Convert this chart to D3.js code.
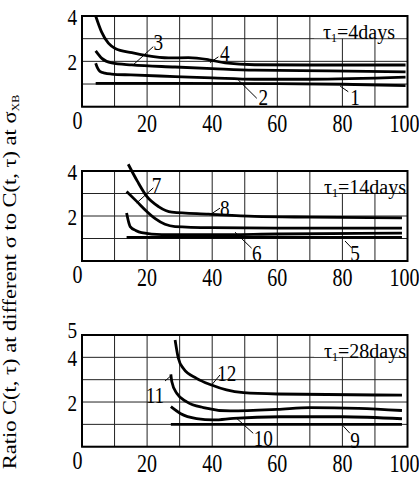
<!DOCTYPE html>
<html><head><meta charset="utf-8">
<script src="https://cdn.jsdelivr.net/npm/d3@7"></script>
<style>body{margin:0;background:#fff}svg{display:block}text{font-family:"Liberation Serif","DejaVu Serif",serif}</style>
</head><body><svg id="c" width="419" height="483"></svg>
<script>
// ---- data ----
const xTicks = [0, 20, 40, 60, 80, 100];
const tauLabels = ["4days", "14days", "28days"];
const yMaxes = [4, 4, 5];
const yTickLabels = [[2, 4], [2, 4], [2, 4, 5]];

// tau1 = 4 days
const curve1 = [[4.2,1.03],[30,1.03],[60,1.02],[80,0.99],[99.4,0.93]];
const curve2 = [[4.2,1.92],[4.8,1.7],[5.5,1.56],[7,1.48],[9.1,1.44],[15,1.4],[28.6,1.33],[40,1.27],[53,1.21],[70,1.21],[99.4,1.3]];
const curve3 = [[4.2,2.46],[6.1,2.13],[9.1,1.93],[15.3,1.84],[28.6,1.75],[40,1.68],[53,1.61],[76,1.58],[99.4,1.54]];
const curve4 = [[4.2,4.0],[6,3.3],[8.1,2.8],[10.2,2.57],[15.3,2.38],[19.9,2.25],[26.6,2.15],[32.7,2.16],[38.9,2.07],[44,1.93],[53,1.85],[70,1.84],[99.4,1.84]];
// tau1 = 14 days
const curve5 = [[13.7,1.05],[50,1.05],[98.3,1.05]];
const curve6 = [[13.7,2.13],[14.2,1.8],[14.8,1.53],[16.5,1.36],[18.3,1.26],[24.5,1.17],[40,1.17],[60,1.2],[98.3,1.24]];
const curve7 = [[13.7,3.09],[16.8,2.65],[19.9,2.2],[22.5,1.88],[25.5,1.63],[28.6,1.53],[40,1.48],[60,1.46],[98.3,1.46]];
const curve8 = [[14.2,4.3],[17,3.55],[19.9,2.87],[23.5,2.42],[27.6,2.17],[38.9,2.08],[53,1.98],[70,1.95],[98.3,1.92]];
// tau1 = 28 days
const curve9 = [[27.3,1.0],[60,1.0],[98.3,1.0]];
const curve10 = [[27.3,1.79],[30.2,1.49],[35.2,1.26],[40.4,1.2],[46.5,1.27],[60.9,1.34],[80,1.34],[98.3,1.25]];
const curve11 = [[27.3,3.24],[27.6,2.91],[29.1,2.39],[32.2,2.01],[37.3,1.75],[45.6,1.6],[60,1.67],[70,1.75],[85,1.72],[98.3,1.62]];
const curve12 = [[28.6,4.78],[29.6,3.96],[31.1,3.51],[35.2,3.06],[39.8,2.76],[44.4,2.54],[49.6,2.42],[60,2.36],[98.3,2.31]];

const panelCurves = [[curve1,curve2,curve3,curve4],[curve5,curve6,curve7,curve8],[curve9,curve10,curve11,curve12]];

// curve annotations: [label, leader start (x,v), leader end (x,v), text centre (x,v)]
const notes1 = [["3",15.7,1.84,21.9,2.65,23.4,2.87],["4",39.3,1.94,41.9,2.2,43.9,2.36],["2",48,1.18,53.7,0.37,55.7,0.44],["1",79.3,0.91,81.8,0.66,83.9,0.44]];
const notes2 = [["7",16.8,2.58,21.9,3.25,22.9,3.39],["8",39.3,2.05,42.4,2.35,43.9,2.35],["6",47,1.28,52.1,0.57,53.7,0.34],["5",80.8,0.89,82.9,0.57,83.9,0.34]];
const notes3 = [["12",39.8,2.76,42.4,3.21,44.5,3.29],["11",27.6,3.21,25.5,2.94,22.4,2.32],["10",47.5,1.27,52.6,0.6,55.7,0.38],["9",80.3,0.92,82.3,0.6,83.9,0.3]];
const panelNotes = [notes1, notes2, notes3];

// ---- layout ----
const svg = d3.select("#c");
const FONT = "'Liberation Serif','DejaVu Serif',serif";
const left = 82, right = 407.5;
const tops = [16, 171, 335], bottoms = [106.7, 261, 446.7];
const SX = 0.8;
const x = d3.scaleLinear().domain([0, 100]).range([left, right]);

function txt(g, px, py, s, size, anchor) {
  return g.append("text")
    .attr("transform", `translate(${px},${py}) scale(${SX},1)`)
    .attr("font-family", FONT)
    .attr("text-anchor", anchor).attr("font-size", size).attr("fill", "#000").text(s);
}

for (let p = 0; p < 3; p++) {
  const g = svg.append("g");
  const y = d3.scaleLinear().domain([0, yMaxes[p]]).range([bottoms[p], tops[p]]);
  // grid
  const xs = d3.range(0, 101, 10), ys = d3.range(0, yMaxes[p] + 1, 1);
  g.selectAll(".vg").data(xs).join("line")
    .attr("x1", d => x(d)).attr("x2", d => x(d)).attr("y1", tops[p]).attr("y2", bottoms[p])
    .attr("stroke", "#222").attr("stroke-width", 1);
  g.selectAll(".hg").data(ys).join("line")
    .attr("x1", left).attr("x2", right).attr("y1", d => y(d)).attr("y2", d => y(d))
    .attr("stroke", "#222").attr("stroke-width", 1);
  // tau label background
  g.append("rect").attr("x", x(71) + 1).attr("y", y(yMaxes[p]) + 1)
    .attr("width", x(100) - x(71) - 2).attr("height", y(yMaxes[p] - 1) - y(yMaxes[p]) - 1.5).attr("fill", "#fff");
  const tl = g.append("text")
    .attr("transform", `translate(${p === 0 ? 395 : 406},${y(yMaxes[p]) + 23})`)
    .attr("font-family", FONT)
    .attr("text-anchor", "end").attr("font-size", 20);
  tl.append("tspan").text("\u03c4");
  tl.append("tspan").attr("font-size", 12).attr("dy", 3).text("1");
  tl.append("tspan").attr("dy", -3).text("=" + tauLabels[p]);
  // frame
  g.append("rect").attr("x", left).attr("y", tops[p]).attr("width", right - left).attr("height", bottoms[p] - tops[p])
    .attr("fill", "none").attr("stroke", "#000").attr("stroke-width", 2);
  // curves
  const line = d3.line().x(d => x(d[0])).y(d => y(d[1])).curve(d3.curveMonotoneX);
  g.selectAll(".cv").data(panelCurves[p]).join("path")
    .attr("d", line).attr("fill", "none").attr("stroke", "#000").attr("stroke-width", 2.8)
    .attr("stroke-linecap", "butt");
  // annotations
  panelNotes[p].forEach(n => {
    g.append("line").attr("x1", x(n[1])).attr("y1", y(n[2])).attr("x2", x(n[3])).attr("y2", y(n[4]))
      .attr("stroke", "#000").attr("stroke-width", 1);
    txt(g, x(n[5]), y(n[6]) + 8, n[0], 24, "middle");
  });
  // x tick labels
  xTicks.forEach((t, i) => {
    if (i === 0) txt(g, x(t) + 0.5, bottoms[p] + 22, String(t), 25, "end");
    else txt(g, x(t) - (t === 100 ? 3 : 0), bottoms[p] + 25, String(t), 25, "middle");
  });
  // y tick labels
  yTickLabels[p].forEach(t => {
    const dy = (t === 5) ? 3 : 9;
    txt(g, 77, y(t) + dy, String(t), 24, "end");
  });
}

// y-axis title
const yt = svg.append("text")
  .attr("transform", `translate(15.5,282) scale(${SX},1) rotate(-90)`)
  .attr("font-family", FONT)
  .attr("text-anchor", "middle").attr("font-size", 22.5);
yt.append("tspan").text("Ratio C(t, \u03c4) at different \u03c3 to C(t, \u03c4) at \u03c3");
yt.append("tspan").attr("font-size", 12).attr("dy", 4).text("XB");
</script></body></html>
